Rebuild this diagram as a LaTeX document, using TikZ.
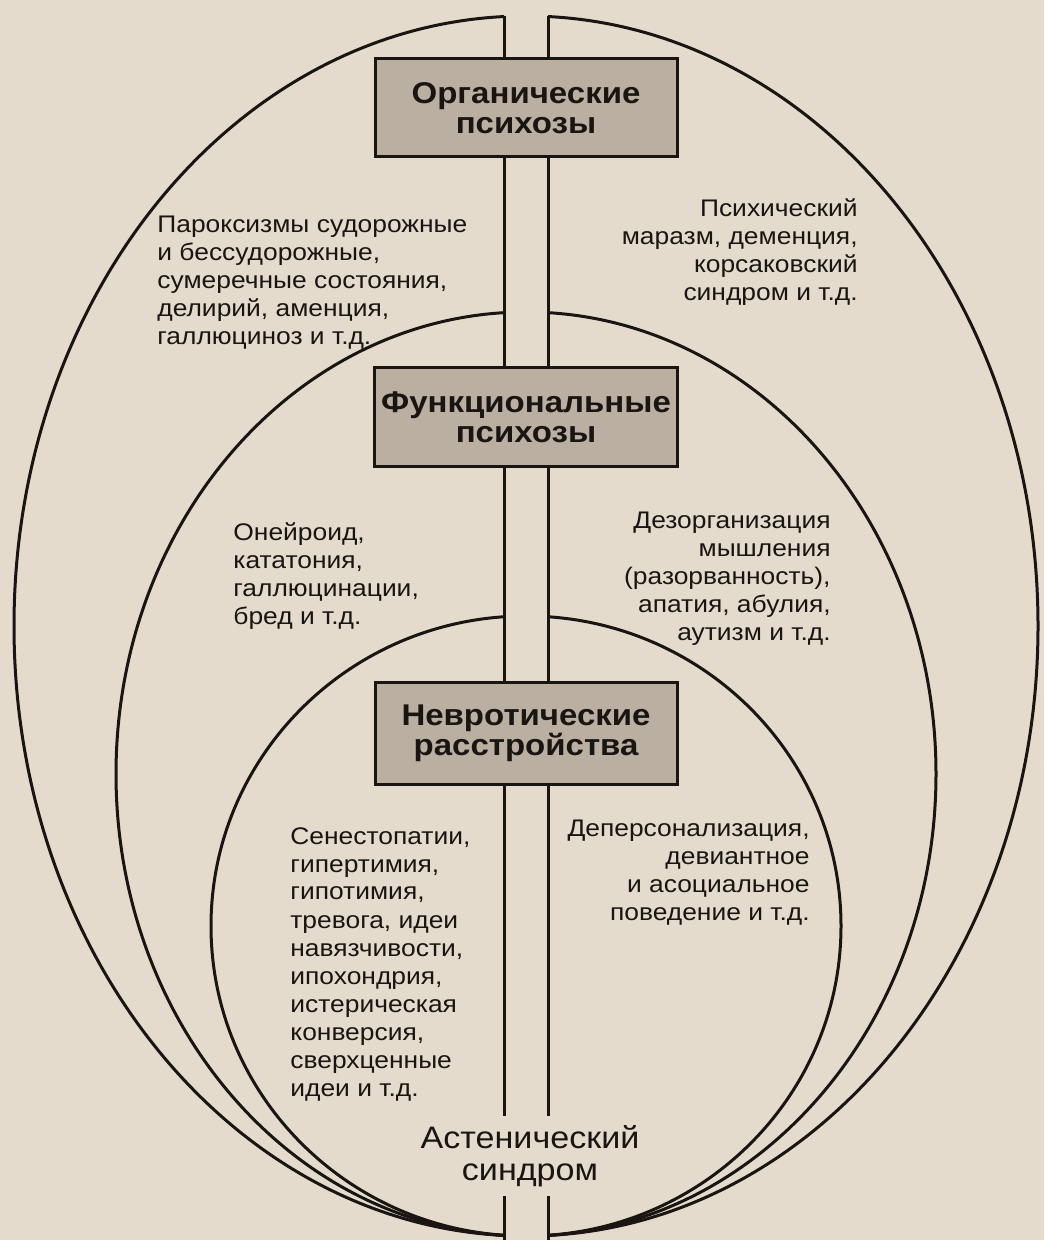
\documentclass[tikz,border=0pt]{standalone}
\usepackage{fontspec}
\setmainfont[FakeStretch=1.1]{Liberation Sans}
\definecolor{paper}{RGB}{228,219,205}
\definecolor{boxgray}{RGB}{187,175,162}
\definecolor{ink}{RGB}{24,21,19}
\begin{document}
\begin{tikzpicture}[x=0.5pt,y=-0.5pt,
                        oval/.style={draw=ink,line width=1.5pt},
                        level1/.style={shape=rectangle,draw=ink,line width=1.5pt,fill=boxgray,text=ink,align=center,
                          minimum width=151pt,minimum height=49pt,font=\fontsize{15}{15}\selectfont\bfseries},
                        level2/.style={text=ink,inner sep=0pt,font=\fontsize{12}{14}\selectfont}
                        ]
                        \useasboundingbox (0,0) rectangle (1044,1240);
                        \fill [paper] (0,0) rectangle (1044,1240);
                        \coordinate (top) at (526,16);
                        \coordinate (bottom) at (526,1240);
                        \coordinate (barL) at (504,0);
                        \coordinate (barR) at (548,0);
                        %Ovale, links und rechts vom Balken
                        \foreach \xa/\xb in {0/504,548/1044} {
                          \begin{scope}
                            \clip (\xa,0) rectangle (\xb,1240);
                            \foreach \cy/\rx/\ry in {626/512/610,774/410/462,926/315/310}
                              \draw [oval] (526,\cy) ellipse [x radius=\rx, y radius=\ry];
                          \end{scope}
                        }
                        %Stufe 1: organische Psychosen
                        \node [level1] (organ) at (526,108) {Органические\\психозы};
                        \node [level2,anchor=west,align=left] (organL) at (157,283) {Пароксизмы судорожные\\и бессудорожные,\\сумеречные состояния,\\делирий, аменция,\\галлюциноз и т.д.};
                        \node [level2,anchor=east,align=right] (organR) at (858,252) {Психический\\маразм, деменция,\\корсаковский\\синдром и т.д.};
                        %Stufe 2: funktionelle Psychosen
                        \node [level1] (funkt) at (526,417) {Функциональные\\психозы};
                        \node [level2,anchor=west,align=left] (funktL) at (233,576) {Онейроид,\\кататония,\\галлюцинации,\\бред и т.д.};
                        \node [level2,anchor=east,align=right] (funktR) at (831,579) {Дезорганизация\\мышления\\(разорванность),\\апатия, абулия,\\аутизм и т.д.};
                        %Stufe 3: neurotische Stoerungen
                        \node [level1,minimum height=51pt] (neurot) at (526,733) {Невротические\\расстройства};
                        \node [level2,anchor=west,align=left] (neurotL) at (290,964) {Сенестопатии,\\гипертимия,\\гипотимия,\\тревога, идеи\\навязчивости,\\ипохондрия,\\истерическая\\конверсия,\\сверхценные\\идеи и т.д.};
                        \node [level2,anchor=east,align=right] (neurotR) at (810,873) {Деперсонализация,\\девиантное\\и асоциальное\\поведение и т.д.};
                        %Basis: asthenisches Syndrom
                        \node [text=ink,align=center,inner sep=4.5pt,font=\fontsize{15.5}{16}\selectfont] (asthen) at (530,1156) {Астенический\\синдром};
                        %Balken
                        \foreach \from/\to in {top/organ.north,organ.south/funkt.north,funkt.south/neurot.north,neurot.south/asthen.north,asthen.south/bottom} {
                          \draw [oval] (\from -| barL) -- (\to -| barL);
                          \draw [oval] (\from -| barR) -- (\to -| barR);
                        }
                \end{tikzpicture}
\end{document}
